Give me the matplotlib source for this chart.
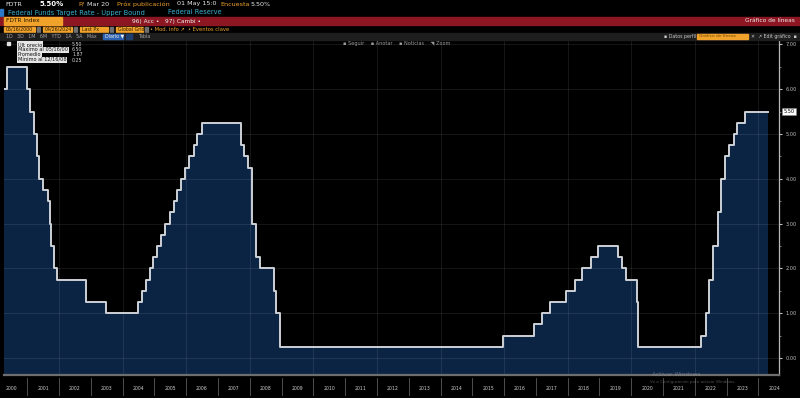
import matplotlib
matplotlib.use("Agg")
import matplotlib.pyplot as plt
from matplotlib.patches import Rectangle
import pandas as pd

# Federal funds target rate (upper bound), change dates and new levels
change_dates = [
    "2000-04-10", "2000-05-16",
    "2001-01-03", "2001-01-31", "2001-03-20", "2001-04-18", "2001-05-15",
    "2001-06-27", "2001-08-21", "2001-09-17", "2001-10-02", "2001-11-06",
    "2001-12-11", "2002-11-06", "2003-06-25",
    "2004-06-30", "2004-08-10", "2004-09-21", "2004-11-10", "2004-12-14",
    "2005-02-02", "2005-03-22", "2005-05-03", "2005-06-30", "2005-08-09",
    "2005-09-20", "2005-11-01", "2005-12-13",
    "2006-01-31", "2006-03-28", "2006-05-10", "2006-06-29",
    "2007-09-18", "2007-10-31", "2007-12-11",
    "2008-01-22", "2008-01-30", "2008-03-18", "2008-04-30", "2008-10-08",
    "2008-10-29", "2008-12-16",
    "2015-12-16", "2016-12-14", "2017-03-15", "2017-06-14", "2017-12-13",
    "2018-03-21", "2018-06-13", "2018-09-26", "2018-12-19",
    "2019-07-31", "2019-09-18", "2019-10-30",
    "2020-03-03", "2020-03-15",
    "2022-03-16", "2022-05-04", "2022-06-15", "2022-07-27", "2022-09-21",
    "2022-11-02", "2022-12-14",
    "2023-02-01", "2023-03-22", "2023-05-03", "2023-07-26",
]
rates = [
    6.00, 6.50,
    6.00, 5.50, 5.00, 4.50, 4.00,
    3.75, 3.50, 3.00, 2.50, 2.00,
    1.75, 1.25, 1.00,
    1.25, 1.50, 1.75, 2.00, 2.25,
    2.50, 2.75, 3.00, 3.25, 3.50,
    3.75, 4.00, 4.25,
    4.50, 4.75, 5.00, 5.25,
    4.75, 4.50, 4.25,
    3.50, 3.00, 2.25, 2.00, 1.50,
    1.00, 0.25,
    0.50, 0.75, 1.00, 1.25, 1.50,
    1.75, 2.00, 2.25, 2.50,
    2.25, 2.00, 1.75,
    1.25, 0.25,
    0.50, 1.00, 1.75, 2.50, 3.25,
    4.00, 4.50,
    4.75, 5.00, 5.25, 5.50,
]
end_date = "2024-04-26"
years = list(range(2000, 2025))
y_ticks = [0, 1, 2, 3, 4, 5, 6, 7]
last_price = 5.50

legend_names = ["Últ precio", "Máximo al 05/16/00", "Promedio", "Mínimo al 12/16/08"]
legend_values = ["5.50", "6.50", "1.87", "0.25"]

W, H = 800, 398
fig = plt.figure(figsize=(8, 3.98), dpi=100, facecolor="black")


def box(x0, y0, x1, y1, color):
    fig.patches.append(Rectangle((x0 / W, 1 - y1 / H), (x1 - x0) / W, (y1 - y0) / H,
                                 transform=fig.transFigure, color=color, zorder=0))


def txt(x, y, s, color="#d8d8d8", size=4.6, **kw):
    fig.text(x / W, 1 - y / H, s, color=color, fontsize=size, va="center", **kw)


ORANGE = "#f0a22a"
CYAN = "#3ab0d0"

# header rows
box(0, 9, 3, 16, "#2b78c8")
txt(5, 4, "FDTR", "#e8e8e8", 4.6)
txt(40, 4, "5.50%", "#ffffff", 5.0, fontweight="bold")
txt(78, 4, "P/", ORANGE, 4.6)
txt(87, 4, "Mar 20", "#e8e8e8", 4.6)
txt(117, 4, "Próx publicación", ORANGE, 4.6)
txt(177, 4, "01 May 15:0", "#e8e8e8", 4.6)
txt(220, 4, "Encuesta", ORANGE, 4.6)
txt(251, 4, "5.50%", "#e8e8e8", 4.6)
txt(8, 12.5, "Federal Funds Target Rate - Upper Bound", CYAN, 4.8)
txt(168, 12.5, "Federal Reserve", CYAN, 4.8)

box(0, 17, 800, 25, "#8c1621")
box(4, 17.5, 62, 24.5, ORANGE)
txt(6, 21, "FDTR Index", "#2a1a00", 4.2)
txt(132, 21, "96) Acc •   97) Cambi •", "#f0f0f0", 4.2)
txt(795, 21, "Gráfico de líneas", "#f0f0f0", 4.2, ha="right")

for x0, x1, s in [(4, 35, "05/16/2000"), (43, 72, "04/26/2024"),
                  (80, 108, "Last Px"), (116, 143, "Global Grid")]:
    box(x0, 26.5, x1, 32, ORANGE)
    txt(x0 + 2, 29.3, s, "#2a1a00", 3.4)
    box(x1 + 1.5, 27, x1 + 4.5, 31.5, "#707070")
txt(150, 29.3, "• Mod. info ↗  • Eventos clave", ORANGE, 3.8)

box(0, 33, 800, 39.5, "#1e1e1e")
txt(6, 36.3, "1D   3D   1M   6M   YTD   1A   5A   Máx", "#a8a8a8", 3.4)
box(103, 33.5, 123, 39, "#2c62b0")
txt(105, 36.3, "Diario ▼", "#f0f0f0", 3.4)
box(126, 33.5, 132, 39, "#1d3f70")
txt(139, 36.3, "Tabla", "#a8a8a8", 3.4)
txt(664, 36.3, "▪ Datos perfil", "#c8c8c8", 3.4)
box(697, 33.8, 748, 38.8, ORANGE)
txt(699, 36.3, "Gráfico de líneas", "#7a4a00", 3.2)
txt(751, 36.3, "✕  ↗ Edit gráfico  ▪", "#c8c8c8", 3.4)
txt(343, 44, "▪ Seguir    ▪ Anotar    ▪ Noticias    ◥ Zoom", "#9a9a9a", 3.6)

# chart
ax = fig.add_axes([4 / W, 1 - 375 / H, 775 / W, 335 / H])
ax.set_facecolor("black")

x = list(pd.to_datetime(change_dates)) + [pd.Timestamp(end_date)]
y = rates + [rates[-1]]
y_bottom = -0.38

ax.fill_between(x, y, y_bottom, step="post", color="#0b2444", lw=0, zorder=1)
ax.step(x, y, where="post", color="#cdd1d6", lw=1.4, zorder=3)

ax.set_xlim(pd.Timestamp("2000-04-08"), pd.Timestamp("2024-08-25"))
ax.set_ylim(y_bottom, 7.1)

for v in y_ticks:
    ax.axhline(v, color="white", alpha=0.09, lw=0.7, zorder=2)
for yr in years:
    if yr % 2 == 0 and yr > 2000:
        ax.axvline(pd.Timestamp(f"{yr}-01-01"), color="white", alpha=0.09, lw=0.7, zorder=2)

ax.yaxis.tick_right()
ax.set_yticks(y_ticks)
ax.set_yticklabels([f"{v:.2f}" for v in y_ticks])
ax.set_yticks([v + 0.5 for v in y_ticks[:-1]], minor=True)
ax.tick_params(axis="y", which="major", colors="#bdbdbd", labelsize=3.6,
               length=2.5, width=0.8, pad=2)
ax.tick_params(axis="y", which="minor", colors="#8a8a8a", length=1.5, width=0.6)
ax.set_xticks([])
for side in ["top", "left"]:
    ax.spines[side].set_visible(False)
ax.spines["right"].set_color("#b8b8b8")
ax.spines["right"].set_linewidth(0.9)
ax.spines["bottom"].set_color("#6e6e6e")
ax.spines["bottom"].set_linewidth(1.6)

# last price tag
ax.text(1.006, last_price, f"{last_price:.2f}", transform=ax.get_yaxis_transform(),
        fontsize=3.6, color="black", va="center", ha="left",
        bbox=dict(boxstyle="square,pad=0.25", fc="white", ec="#888888", lw=0.4))

# year labels under the axis
xt = ax.get_xaxis_transform()
for yr in years:
    ax.text(pd.Timestamp(f"{yr}-07-01"), -0.04, str(yr), transform=xt, fontsize=3.3,
            color="#d0d0d0", ha="center", va="center", clip_on=False)
    start = pd.Timestamp(f"{yr}-01-01")
    if start > pd.Timestamp("2000-04-08"):
        ax.plot([start, start], [-0.01, -0.06], transform=xt, color="#5a5a5a",
                lw=0.6, clip_on=False)

# legend block
box(7, 42, 9.5, 44.5, "#e0e0e0")
for i, (name, val) in enumerate(zip(legend_names, legend_values)):
    yy = 44.5 + i * 5.2
    fig.text(18 / W, 1 - yy / H, name, fontsize=3.6, color="#101010", va="center",
             bbox=dict(boxstyle="square,pad=0.12", fc="#e6e6e6", ec="none"))
    txt(72, yy, val, "#d8d8d8", 3.4)

# Windows watermark
txt(652, 375, "Activar Windows", "#9a9a9a", 4.2, alpha=0.6)
txt(650, 381.5, "Ve a Configuración para activar Windows.", "#9a9a9a", 3.0, alpha=0.5)

fig.savefig("out.png", dpi=100, facecolor="black")
